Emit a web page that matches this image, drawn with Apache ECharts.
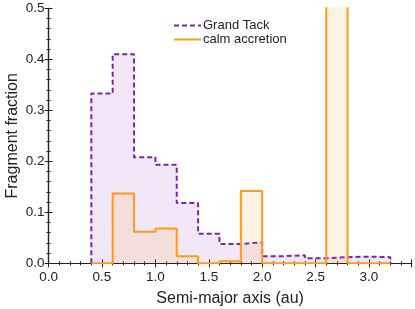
<!DOCTYPE html>
<html><head><meta charset="utf-8">
<script src="https://cdn.jsdelivr.net/npm/echarts@6/dist/echarts.min.js"></script>
<style>html,body{margin:0;padding:0;background:#fff}#c{width:415px;height:309px}</style>
</head><body><div id="c"></div>
<script>
const binEdges = [0.4,0.6,0.8,1.0,1.2,1.4,1.6,1.8,2.0,2.2,2.4,2.6,2.8,3.0,3.2];
const grandTack = [0.333,0.410,0.208,0.193,0.118,0.058,0.038,0.041,0.014,0.016,0.010,0.012,0.013,0.012];
const calmAccretion = [0,0.137,0.062,0.068,0.014,0,0.004,0.142,0,0,0,0.57,0,0];
const xTicks = [0.0,0.5,1.0,1.5,2.0,2.5,3.0];
const yTicks = [0.0,0.1,0.2,0.3,0.4,0.5];

function stepPoints(edges, vals){
  const pts = [[edges[0],0]];
  for(let i=0;i<vals.length;i++) pts.push([edges[i],vals[i]]);
  pts.push([edges[edges.length-1],vals[vals.length-1]]);
  pts.push([edges[edges.length-1],0]);
  return pts;
}
const font = 'Liberation Sans, Arial, sans-serif';
const purple = '#7f22aa', orange = '#ff9a1a';
const chart = echarts.init(document.getElementById('c'), null, {renderer:'canvas'});
const axisCommon = {
  axisLine:{show:true,lineStyle:{color:'#222',width:1.2}},
  axisTick:{show:true,inside:true,length:4,lineStyle:{color:'#222'}},
  minorTick:{show:true,splitNumber:5,length:2,lineStyle:{color:'#222'}},
  splitLine:{show:false}
};
chart.setOption({
  animation:false,
  textStyle:{fontFamily:font},
  grid:{left:48.6,right:3.3,top:8.3,bottom:45.7,containLabel:false,outerBoundsMode:'none'},
  legend:{
    left:168, top:14, orient:'vertical', itemWidth:27, itemHeight:8, itemGap:1,
    itemStyle:{opacity:0},
    textStyle:{fontSize:13,color:'#222',fontFamily:font,padding:[0,0,0,-3]},
    data:['Grand Tack','calm accretion']
  },
  xAxis:[
    Object.assign({type:'value',min:0,max:3.4,interval:0.5,position:'bottom',
      name:'Semi-major axis (au)',nameLocation:'middle',nameGap:27,
      nameTextStyle:{fontSize:16,color:'#222',fontFamily:font},
      axisLabel:{fontSize:13.5,color:'#222',margin:7,formatter:v=>xTicks.includes(v)?v.toFixed(1):'',showMaxLabel:false}},axisCommon),
    Object.assign({type:'value',min:0,max:3.4,interval:0.5,position:'top',axisLabel:{show:false}},axisCommon)
  ],
  yAxis:[
    Object.assign({type:'value',min:0,max:0.5,interval:0.1,position:'left',
      name:'Fragment fraction',nameLocation:'middle',nameGap:28,nameMoveOverlap:false,
      nameTextStyle:{fontSize:16,color:'#222',fontFamily:font},
      axisLabel:{fontSize:13.5,color:'#222',margin:4,formatter:v=>v.toFixed(1)}},axisCommon),
    Object.assign({type:'value',min:0,max:0.5,interval:0.1,position:'right',axisLabel:{show:false}},axisCommon)
  ],
  series:[
    {name:'Grand Tack',type:'line',step:'end',symbol:'none',data:stepPoints(binEdges,grandTack),
     lineStyle:{color:purple,width:2,type:[5,3]},itemStyle:{color:purple},
     areaStyle:{color:purple,opacity:0.11},z:2},
    {name:'calm accretion',type:'line',step:'end',symbol:'none',data:stepPoints(binEdges,calmAccretion),
     lineStyle:{color:orange,width:2},itemStyle:{color:orange},
     areaStyle:{color:orange,opacity:0.12},z:3,clip:true}
  ]
});
</script></body></html>
